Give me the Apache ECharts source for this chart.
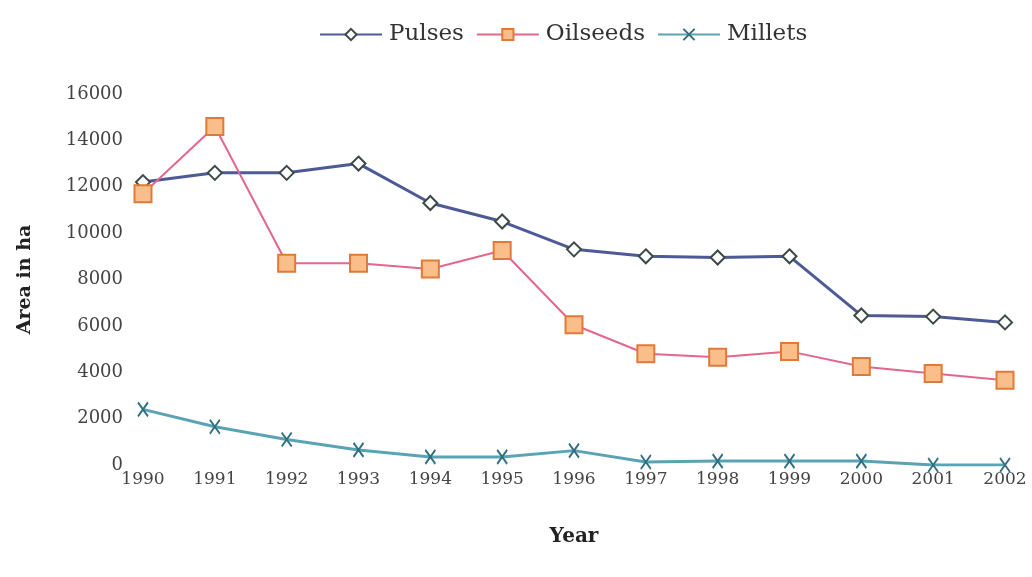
<!DOCTYPE html>
<html>
<head>
<meta charset="utf-8">
<script src="https://cdn.jsdelivr.net/npm/echarts@6/dist/echarts.min.js"></script>
<style>
  html, body { margin: 0; padding: 0; background: #fff; }
  #chart { width: 1032px; height: 577px; }
</style>
</head>
<body>
<div id="chart"></div>
<script>
var years = ["1990", "1991", "1992", "1993", "1994", "1995", "1996", "1997", "1998", "1999", "2000", "2001", "2002"];
var pulses = [12200, 12600, 12600, 13000, 11300, 10500, 9300, 9000, 8950, 9000, 6450, 6400, 6150];
var oilseeds = [11700, 14600, 8700, 8700, 8450, 9250, 6050, 4800, 4650, 4900, 4250, 3950, 3650];
var millets = [2400, 1650, 1100, 650, 350, 350, 620, 130, 170, 170, 170, 0, 0];

var serif = "'DejaVu Serif', 'Liberation Serif', serif";
var crossPath = "path://M0,0L10,14M10,0L0,14";

var chart = echarts.init(document.getElementById("chart"));
chart.setOption({
  animation: false,
  legend: {
    top: 18,
    left: 314,
    itemWidth: 62,
    itemHeight: 14,
    itemGap: 12,
    textStyle: { fontFamily: serif, fontSize: 23, color: "#333", padding: [0, 0, 0, 2] },
    data: ["Pulses", "Oilseeds", "Millets"]
  },
  grid: { left: 143, right: 27, top: 94, bottom: 112 },
  xAxis: {
    type: "category",
    data: years,
    boundaryGap: false,
    name: "Year",
    nameLocation: "middle",
    nameGap: 62,
    nameTextStyle: { fontFamily: serif, fontSize: 20, fontWeight: "bold", color: "#222" },
    axisLine: { show: false },
    axisTick: { show: false },
    axisLabel: { fontFamily: serif, fontSize: 17, color: "#444", margin: 6 }
  },
  yAxis: {
    type: "value",
    min: 0,
    max: 16000,
    interval: 2000,
    name: "Area in ha",
    nameLocation: "middle",
    nameGap: 108,
    nameTextStyle: { fontFamily: serif, fontSize: 19, fontWeight: "bold", color: "#222" },
    axisLine: { show: false },
    axisTick: { show: false },
    splitLine: { show: false },
    axisLabel: {
      fontFamily: serif, fontSize: 18, color: "#444", margin: 20,
      formatter: function (v) { return String(v); }
    }
  },
  series: [
    {
      name: "Pulses",
      type: "line",
      data: pulses,
      symbol: "diamond",
      symbolSize: 14,
      showAllSymbol: true,
      lineStyle: { color: "#4d5a96", width: 3 },
      itemStyle: { color: "#ffffff", borderColor: "#3c4a46", borderWidth: 2 }
    },
    {
      name: "Oilseeds",
      type: "line",
      data: oilseeds,
      symbol: "rect",
      symbolSize: 17,
      showAllSymbol: true,
      lineStyle: { color: "#e3668c", width: 2 },
      itemStyle: { color: "#f9be8a", borderColor: "#e07a3a", borderWidth: 2 }
    },
    {
      name: "Millets",
      type: "line",
      data: millets,
      symbol: crossPath,
      symbolSize: [10, 14],
      showAllSymbol: true,
      lineStyle: { color: "#5aa3b4", width: 3 },
      itemStyle: { color: "#2f6f80", borderColor: "#2f6f80", borderWidth: 2 }
    }
  ]
});
</script>
</body>
</html>
